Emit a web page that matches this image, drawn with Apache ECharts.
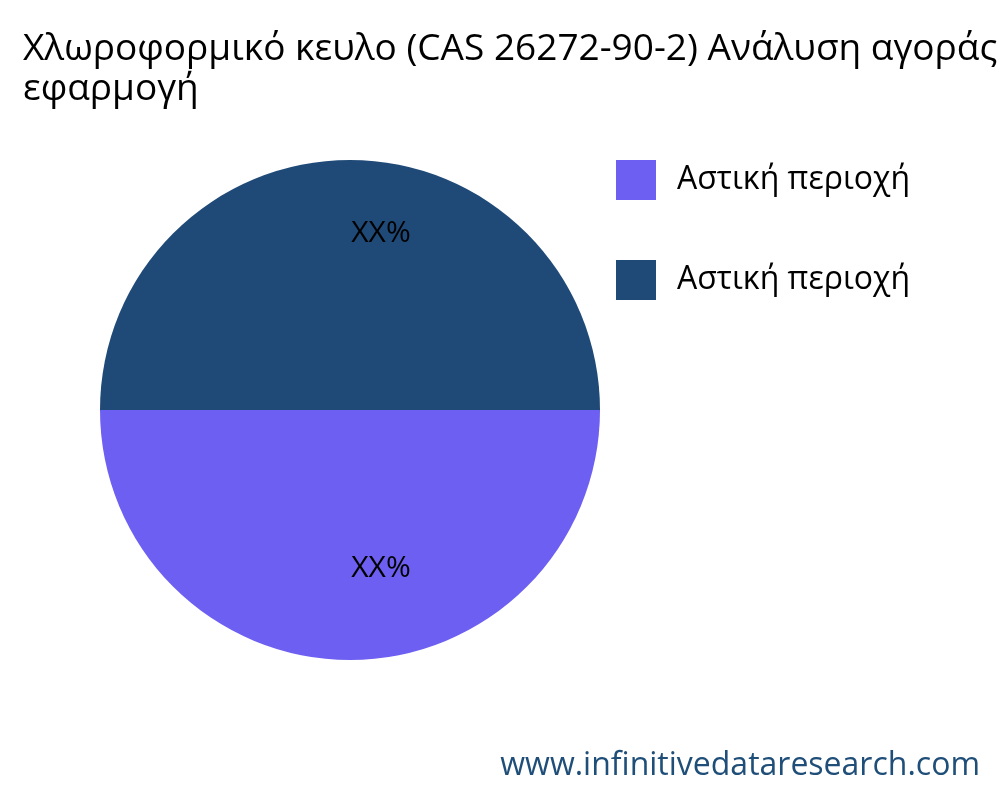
<!DOCTYPE html>
<html>
<head>
<meta charset="utf-8">
<script src="https://cdn.jsdelivr.net/npm/echarts@6/dist/echarts.min.js"></script>
<style>
  html, body { margin: 0; padding: 0; background: #fff; }
  #main { width: 1000px; height: 800px; }
</style>
</head>
<body>
<div id="main"></div>
<script>
// chart data
var categories = ['Αστική περιοχή', 'Αστική περιοχή ']
var values = [50, 50]
var labels = ['XX%', 'XX%']
var colors = ['#6c5ff1', '#1f4a78']
var titleText = 'Χλωροφορμικό κευλο (CAS 26272-90-2) Ανάλυση αγοράς\nεφαρμογή'

var labelOffsets = [[31, 30], [31, -49]]

var myChart = echarts.init(document.getElementById('main'), null, { width: 1000, height: 800 })
myChart.setOption({
  animation: false,
  title: {
    text: titleText,
    left: 18,
    top: 24,
    textStyle: {
      fontFamily: 'Open Sans',
      fontWeight: 'normal',
      fontSize: 37,
      lineHeight: 40,
      color: '#000'
    }
  },
  legend: {
    orient: 'vertical',
    left: 611,
    top: 155,
    itemWidth: 40,
    itemHeight: 40,
    itemGap: 60,
    icon: 'rect',
    textStyle: {
      fontFamily: 'Open Sans',
      fontSize: 32,
      color: '#000',
      padding: [0, 0, 0, 16]
    },
    formatter: function (name) {
      return name.trim()
    }
  },
  graphic: [
    {
      type: 'text',
      right: 20,
      top: 750,
      style: {
        text: 'www.infinitivedataresearch.com',
        fontFamily: 'Open Sans',
        fontSize: 32,
        fill: '#1f4e79'
      }
    }
  ],
  series: [
    {
      type: 'pie',
      center: [350, 410],
      radius: 250,
      startAngle: 0,
      clockwise: true,
      avoidLabelOverlap: false,
      label: {
        show: true,
        position: 'inside',
        fontFamily: 'Open Sans',
        fontSize: 30,
        color: '#000'
      },
      labelLine: { show: false },
      emphasis: { disabled: true },
      data: values.map(function (v, i) {
        return {
          name: categories[i],
          value: v,
          itemStyle: { color: colors[i] },
          label: { formatter: labels[i], offset: labelOffsets[i] }
        }
      })
    }
  ]
})
</script>
</body>
</html>
